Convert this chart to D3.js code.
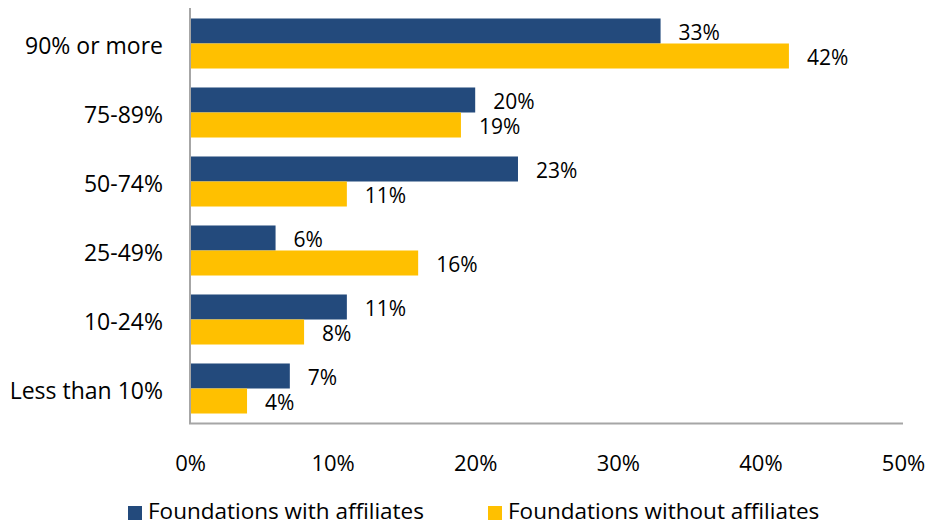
<!DOCTYPE html>
<html>
<head>
<meta charset="utf-8">
<script src="https://cdn.jsdelivr.net/npm/d3@7"></script>
<style>
  html, body { margin: 0; padding: 0; background: #fff; }
  svg { display: block; }
  text { font-family: "Open Sans", "Noto Sans", sans-serif; fill: #000; }
</style>
</head>
<body>
<svg id="chart" width="934" height="525"></svg>
<script>
const categories = ["90% or more", "75-89%", "50-74%", "25-49%", "10-24%", "Less than 10%"];
const seriesNames = ["Foundations with affiliates", "Foundations without affiliates"];
const withAffiliates = [33, 20, 23, 6, 11, 7];
const withoutAffiliates = [42, 19, 11, 16, 8, 4];
const tickValues = [0, 10, 20, 30, 40, 50];
const colors = ["#234A7C", "#FFC000"];

const svg = d3.select("#chart");
const labelSize = 21;
const numSize = 22;
const wordSize = 23;

const x = d3.scaleLinear().domain([0, 50]).range([190, 903]);
const y = d3.scaleBand().domain(categories).range([9, 423]).paddingInner(0.275).paddingOuter(0.1375);
const sub = d3.scaleBand().domain(seriesNames).range([0, y.bandwidth()]);

const rows = categories.map((c, i) => ({ cat: c, vals: [withAffiliates[i], withoutAffiliates[i]] }));

const g = svg.append("g");
rows.forEach(r => {
  r.vals.forEach((v, j) => {
    const yy = y(r.cat) + sub(seriesNames[j]);
    g.append("rect")
      .attr("x", x(0))
      .attr("y", yy)
      .attr("width", x(v) - x(0))
      .attr("height", sub.bandwidth())
      .attr("fill", colors[j]);
    g.append("text")
      .attr("x", x(v) + 18)
      .attr("y", yy + sub.bandwidth() / 2 + 1)
      .attr("dominant-baseline", "central")
      .attr("font-size", labelSize)
      .text(v + "%");
  });
});

// axes lines
svg.append("line").attr("x1", x(0)).attr("x2", x(0)).attr("y1", 8).attr("y2", 424)
  .attr("stroke", "#A6A6A6").attr("stroke-width", 2);
svg.append("line").attr("x1", x(0) - 1).attr("x2", x(50)).attr("y1", 423.5).attr("y2", 423.5)
  .attr("stroke", "#A6A6A6").attr("stroke-width", 2);

// x axis tick labels
const xAxis = d3.axisBottom(x).tickValues(tickValues).tickFormat(d => d + "%").tickSize(0).tickPadding(0);
const xg = svg.append("g").attr("transform", "translate(0,462)").call(xAxis);
xg.select(".domain").remove();
xg.selectAll("text").attr("font-size", numSize).attr("font-family", "'Open Sans', sans-serif")
  .attr("fill", "#000").attr("dy", null).attr("y", 0).attr("dominant-baseline", "central");

// y axis labels
const yAxis = d3.axisLeft(y).tickSize(0).tickPadding(0);
const yg = svg.append("g").attr("transform", "translate(163,1)").call(yAxis);
yg.select(".domain").remove();
yg.selectAll("text").attr("font-size", wordSize).attr("font-family", "'Open Sans', sans-serif")
  .attr("fill", "#000").attr("dy", null).attr("dominant-baseline", "central");

// legend
const legendX = [128, 488];
seriesNames.forEach((n, j) => {
  svg.append("rect").attr("x", legendX[j]).attr("y", 506).attr("width", 14).attr("height", 14).attr("fill", colors[j]);
  svg.append("text").attr("x", legendX[j] + 20).attr("y", 519)
    .attr("font-size", 22.5).text(n);
});
</script>
</body>
</html>
